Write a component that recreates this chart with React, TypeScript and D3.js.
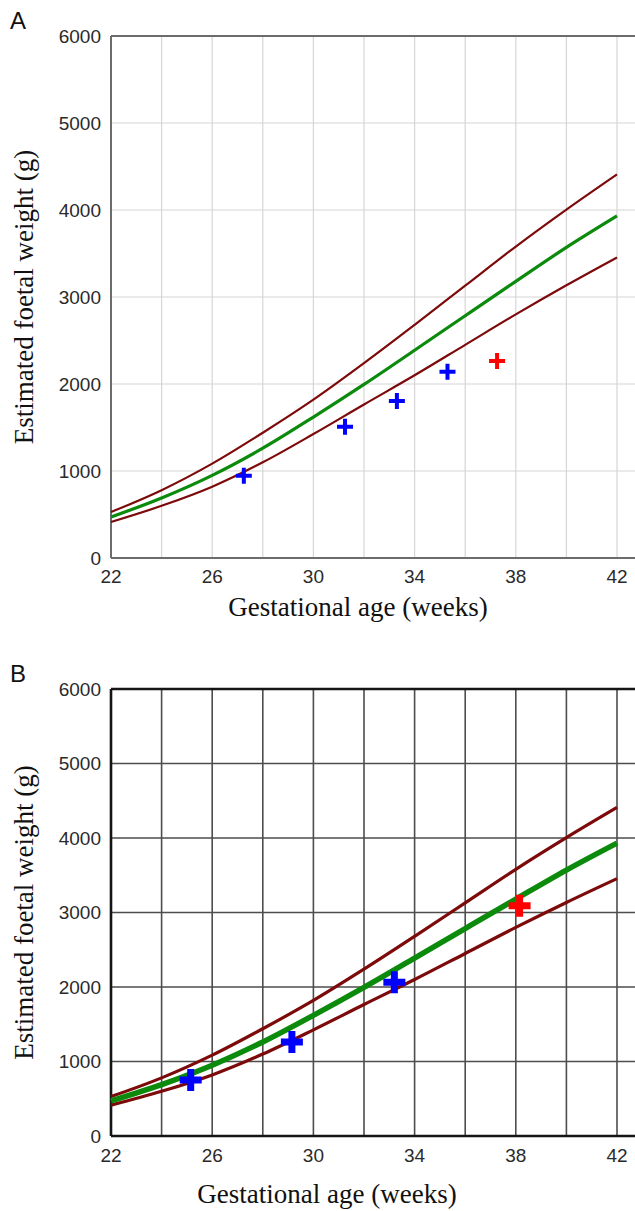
import React from 'react';
import * as d3 from 'd3';

// reference curves (g) at each even week
const WEEKS = [22, 24, 26, 28, 30, 32, 34, 36, 38, 40, 42];
const UPPER = [529, 780, 1085, 1440, 1820, 2240, 2680, 3130, 3580, 4005, 4410];
const MEDIAN = [471, 690, 950, 1262, 1620, 1995, 2388, 2785, 3180, 3570, 3932];
const LOWER = [414, 600, 820, 1100, 1425, 1765, 2100, 2450, 2800, 3135, 3455];

// scan measurements
const A_SCAN_WEEKS = [27.25, 31.25, 33.3, 35.3];
const A_SCAN_EFW = [945, 1510, 1805, 2140];
const A_LAST_WEEK = [37.26];
const A_LAST_EFW = [2265];

const B_SCAN_WEEKS = [25.15, 29.15, 33.2];
const B_SCAN_EFW = [752, 1262, 2065];
const B_LAST_WEEK = [38.15];
const B_LAST_EFW = [3090];

const X_TICKS = [22, 26, 30, 34, 38, 42];
const X_GRID = d3.range(22, 43, 2);
const Y_TICKS = [0, 1000, 2000, 3000, 4000, 5000, 6000];

const SANS = 'Liberation Sans, Arial, sans-serif';
const SERIF = 'Liberation Serif, Times New Roman, serif';

type PanelProps = {
  letter: string;
  top: number;
  bottom: number;
  xLabelX: number;
  xTickY: number;
  xLabelY: number;
  gridColor: string;
  gridWidth: number;
  axisColor: string;
  axisWidth: number;
  bandWidth: number;
  medianWidth: number;
  plusSize: number;
  plusStroke: number;
  scanWeeks: number[];
  scanEfw: number[];
  lastWeek: number[];
  lastEfw: number[];
};

function Plus({ cx, cy, size, stroke, color }: { cx: number; cy: number; size: number; stroke: number; color: string }) {
  const h = size / 2;
  return (
    <path
      d={`M${cx - h},${cy}H${cx + h}M${cx},${cy - h}V${cy + h}`}
      stroke={color}
      strokeWidth={stroke}
      fill="none"
    />
  );
}

function Panel(p: PanelProps) {
  const left = 111;
  const right = 635;
  const x = d3.scaleLinear().domain([22, 42]).range([left, 617]);
  const y = d3.scaleLinear().domain([0, 6000]).range([p.bottom, p.top]);

  const line = d3.line<number>()
    .x((_, i) => x(WEEKS[i]))
    .y(d => y(d))
    .curve(d3.curveMonotoneX);

  const midY = (p.top + p.bottom) / 2;

  return (
    <g>
      <text x={10} y={p.top - 7} fontFamily={SANS} fontSize={24} fill="#111">{p.letter}</text>

      {/* grid */}
      {X_GRID.map(w => (
        <line key={'gx' + w} x1={x(w)} x2={x(w)} y1={p.top} y2={p.bottom} stroke={p.gridColor} strokeWidth={p.gridWidth} />
      ))}
      {Y_TICKS.map(v => (
        <line key={'gy' + v} x1={left} x2={right} y1={y(v)} y2={y(v)} stroke={p.gridColor} strokeWidth={p.gridWidth} />
      ))}

      {/* frame */}
      <line x1={left} x2={right} y1={p.top} y2={p.top} stroke={p.axisColor} strokeWidth={p.axisWidth} />
      <line x1={left} x2={right} y1={p.bottom} y2={p.bottom} stroke={p.axisColor} strokeWidth={p.axisWidth} />
      <line x1={left} x2={left} y1={p.top} y2={p.bottom} stroke={p.axisColor} strokeWidth={p.axisWidth} />

      {/* tick labels */}
      {Y_TICKS.map(v => (
        <text key={'ty' + v} x={101} y={y(v)} dy="0.36em" textAnchor="end" fontFamily={SANS} fontSize={19} fill="#2a2a2a">{v}</text>
      ))}
      {X_TICKS.map(w => (
        <text key={'tx' + w} x={x(w)} y={p.xTickY} textAnchor="middle" fontFamily={SANS} fontSize={19} fill="#2a2a2a">{w}</text>
      ))}

      {/* axis titles */}
      <text x={p.xLabelX} y={p.xLabelY} textAnchor="middle" fontFamily={SERIF} fontSize={27} fill="#111">Gestational age (weeks)</text>
      <text transform={`translate(33,${midY}) rotate(-90)`} textAnchor="middle" fontFamily={SERIF} fontSize={27} fill="#111">Estimated foetal weight (g)</text>

      {/* centile curves */}
      <path d={line(UPPER) || ''} fill="none" stroke="#7d0a0a" strokeWidth={p.bandWidth} />
      <path d={line(LOWER) || ''} fill="none" stroke="#7d0a0a" strokeWidth={p.bandWidth} />
      <path d={line(MEDIAN) || ''} fill="none" stroke="#0b8a0b" strokeWidth={p.medianWidth} />

      {/* measurements */}
      {p.scanWeeks.map((w, i) => (
        <Plus key={'s' + i} cx={x(w)} cy={y(p.scanEfw[i])} size={p.plusSize} stroke={p.plusStroke} color="#0000ff" />
      ))}
      {p.lastWeek.map((w, i) => (
        <Plus key={'l' + i} cx={x(w)} cy={y(p.lastEfw[i])} size={p.plusSize} stroke={p.plusStroke} color="#ff0000" />
      ))}
    </g>
  );
}

export default function App() {
  return (
    <svg
      width={635}
      height={1211}
      viewBox="0 0 635 1211"
      style={{ position: 'absolute', left: 0, top: 0, background: '#fff' }}
    >
      <Panel
        letter="A"
        top={36}
        bottom={558}
        xLabelX={358}
        xTickY={583}
        xLabelY={616}
        gridColor="#d6d6d6"
        gridWidth={1.2}
        axisColor="#6c6c6c"
        axisWidth={2}
        bandWidth={2.2}
        medianWidth={3.2}
        plusSize={16}
        plusStroke={4}
        scanWeeks={A_SCAN_WEEKS}
        scanEfw={A_SCAN_EFW}
        lastWeek={A_LAST_WEEK}
        lastEfw={A_LAST_EFW}
      />
      <Panel
        letter="B"
        top={689}
        bottom={1136}
        xLabelX={327}
        xTickY={1162}
        xLabelY={1203}
        gridColor="#4d4d4d"
        gridWidth={1.6}
        axisColor="#151515"
        axisWidth={2.6}
        bandWidth={3.2}
        medianWidth={5.5}
        plusSize={22}
        plusStroke={7}
        scanWeeks={B_SCAN_WEEKS}
        scanEfw={B_SCAN_EFW}
        lastWeek={B_LAST_WEEK}
        lastEfw={B_LAST_EFW}
      />
    </svg>
  );
}
